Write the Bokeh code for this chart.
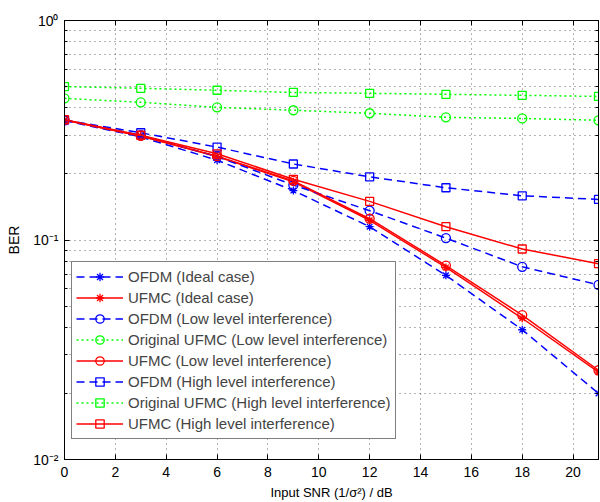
from bokeh.plotting import figure
from bokeh.models import (Legend, LegendItem, LinearAxis, LogAxis, FixedTicker,
                          Range1d, CustomJSTickFormatter)
from bokeh.embed import file_html
from bokeh.resources import INLINE

snr = [0, 3, 6, 9, 12, 15, 18, 21]

ofdm_ideal = [0.350, 0.295, 0.231, 0.168, 0.115, 0.069, 0.039, 0.020]
ufmc_ideal = [0.352, 0.298, 0.240, 0.184, 0.123, 0.075, 0.044, 0.025]
ofdm_low = [0.351, 0.300, 0.240, 0.178, 0.136, 0.102, 0.0755, 0.0625]
orig_ufmc_low = [0.442, 0.424, 0.402, 0.390, 0.378, 0.362, 0.358, 0.351]
ufmc_low = [0.352, 0.298, 0.241, 0.186, 0.125, 0.0765, 0.0455, 0.0255]
ofdm_high = [0.352, 0.308, 0.265, 0.222, 0.194, 0.173, 0.159, 0.153]
orig_ufmc_high = [0.500, 0.491, 0.481, 0.470, 0.466, 0.461, 0.456, 0.451]
ufmc_high = [0.353, 0.300, 0.247, 0.189, 0.150, 0.115, 0.091, 0.078]

x_ticks = [0, 2, 4, 6, 8, 10, 12, 14, 16, 18, 20]
y_ticks = [0.01, 0.1, 1]
y_tick_labels = ["10⁻²", "10⁻¹", "10⁰"]
y_minor = [0.02, 0.03, 0.04, 0.05, 0.06, 0.07, 0.08, 0.09,
           0.2, 0.3, 0.4, 0.5, 0.6, 0.7, 0.8, 0.9]

labels = [
    "OFDM (Ideal case)",
    "UFMC (Ideal case)",
    "OFDM (Low level interference)",
    "Original UFMC (Low level interference)",
    "UFMC (Low level interference)",
    "OFDM (High level interference)",
    "Original UFMC (High level interference)",
    "UFMC (High level interference)",
]
series = [ofdm_ideal, ufmc_ideal, ofdm_low, orig_ufmc_low, ufmc_low, ofdm_high, orig_ufmc_high, ufmc_high]

BLUE, RED, GREEN = "#0000ff", "#ff0000", "#00ff00"
styles = [
    (BLUE, "8 5", "asterisk", 8),
    (RED, "solid", "asterisk", 8),
    (BLUE, "8 5", "circle", 9),
    (GREEN, "2 3", "circle", 9),
    (RED, "solid", "circle", 9),
    (BLUE, "8 5", "square", 8),
    (GREEN, "2 3", "square", 8),
    (RED, "solid", "square", 8),
]

FONT = "Liberation Sans"

p = figure(width=600, height=502, y_axis_type="log", output_backend="svg",
           toolbar_location=None, x_range=Range1d(0, 21), y_range=Range1d(0.01, 1),
           min_border_left=64, min_border_right=2, min_border_top=20, min_border_bottom=42)
p.background_fill_color = "white"
p.border_fill_color = "white"
p.outline_line_color = "black"
p.outline_line_width = 1

xt = FixedTicker(ticks=x_ticks)
yt = FixedTicker(ticks=y_ticks, minor_ticks=y_minor)
p.xaxis.ticker = xt
p.yaxis.ticker = yt
p.yaxis.major_label_overrides = {v: t for v, t in zip(y_ticks, y_tick_labels)}

for ax in [p.xaxis[0], p.yaxis[0]]:
    ax.axis_line_color = "black"
    ax.major_tick_line_color = "black"
    ax.minor_tick_line_color = "black"
    ax.major_tick_in = 5
    ax.major_tick_out = 0
    ax.minor_tick_in = 3
    ax.minor_tick_out = 0
    ax.major_label_text_font = FONT
    ax.major_label_text_font_size = "14px"
    ax.major_label_text_color = "black"
    ax.axis_label_text_font = FONT
    ax.axis_label_text_font_style = "normal"
    ax.axis_label_text_color = "black"

p.xaxis.major_label_standoff = 7
p.yaxis.major_label_standoff = 6
p.xaxis.axis_label = "Input SNR (1/σ²) / dB"
p.xaxis.axis_label_text_font_size = "13px"
p.xaxis.axis_label_standoff = 5
p.yaxis.axis_label = "BER"
p.yaxis.axis_label_text_font_size = "14px"
p.yaxis.axis_label_standoff = 8

blank = CustomJSTickFormatter(code="return ''")
top = LinearAxis(ticker=xt, formatter=blank, major_label_standoff=0,
                 major_tick_in=5, major_tick_out=0, axis_line_color="black")
right = LogAxis(ticker=yt, formatter=blank, major_label_standoff=0,
                major_tick_in=5, major_tick_out=0, minor_tick_in=3, minor_tick_out=0,
                axis_line_color="black")
p.add_layout(top, "above")
p.add_layout(right, "right")

for g in [p.xgrid[0], p.ygrid[0]]:
    g.grid_line_color = "black"
    g.grid_line_alpha = 0.6
    g.grid_line_dash = "1 4"
    g.grid_line_width = 1
p.ygrid.minor_grid_line_color = "black"
p.ygrid.minor_grid_line_alpha = 0.6
p.ygrid.minor_grid_line_dash = "1 4"

items = []
for lab, ys, (col, dash, mk, sz) in zip(labels, series, styles):
    lr = p.line(snr, ys, line_color=col, line_dash=dash, line_width=1.5)
    sr = p.scatter(snr, ys, marker=mk, size=sz, line_color=col, fill_color=None, line_width=1.3)
    items.append(LegendItem(label=lab, renderers=[lr, sr]))

leg = Legend(items=items, location=(7, 20), margin=0, padding=4, spacing=0,
             label_height=21, glyph_height=21, glyph_width=47, label_standoff=5,
             label_text_font=FONT, label_text_font_size="15px",
             border_line_color="black", border_line_width=1, background_fill_alpha=1.0)
p.add_layout(leg, "center")

open("out.html", "w").write(file_html(p, INLINE))
